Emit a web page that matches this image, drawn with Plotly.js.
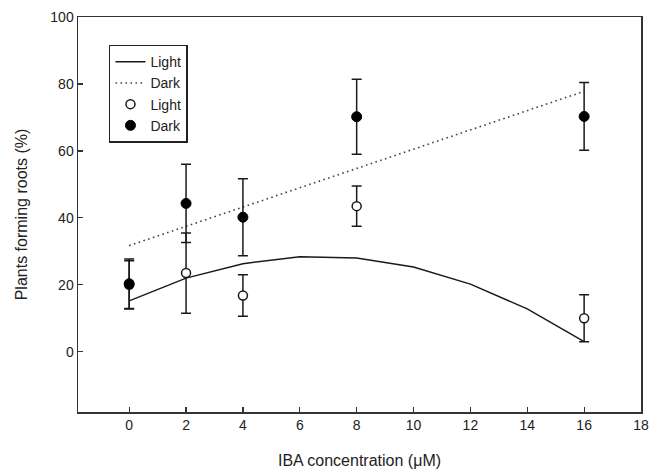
<!DOCTYPE html>
<html>
<head>
<meta charset="utf-8">
<script src="https://cdn.plot.ly/plotly-3.0.1.min.js"></script>
<style>html,body{margin:0;padding:0;background:#fff}#chart{width:651px;height:473px}</style>
</head>
<body>
<div id="chart"></div>
<script>
// Observed means (%), with standard-error bars
const concentrations = [0, 2, 4, 8, 16];
const lightMeans = [20, 23.5, 16.8, 43.5, 10];
const lightErrors = [7.2, 12, 6.2, 6, 7];
const darkMeans = [20.3, 44.3, 40.2, 70.2, 70.3];
const darkErrors = [7.4, 11.7, 11.5, 11.2, 10.1];

// Fitted curves
const lightFitX = [0, 2, 4, 6, 8, 10, 12, 14, 16];
const lightFitY = [15.2, 22, 26.3, 28.4, 28, 25.3, 20.2, 12.8, 3];
const darkFitX = [0, 16];
const darkFitY = [31.7, 77.8];

const xTicks = [0, 2, 4, 6, 8, 10, 12, 14, 16, 18];
const yTicks = [0, 20, 40, 60, 80, 100];

const ink = '#1a1a1a';
const fam = 'Liberation Sans, Arial, sans-serif';
const traces = [
  {x: lightFitX, y: lightFitY, mode: 'lines', name: 'Light',
   line: {color: ink, width: 1.5}},
  {x: darkFitX, y: darkFitY, mode: 'lines', name: 'Dark',
   line: {color: '#444', width: 1.6, dash: '1.6px,3.4px'}},
  {x: concentrations, y: lightMeans, mode: 'markers', name: 'Light',
   marker: {symbol: 'circle', size: 9, color: '#fff', line: {color: ink, width: 1.5}},
   error_y: {type: 'data', array: lightErrors, color: ink, thickness: 1.5, width: 5}},
  {x: concentrations, y: darkMeans, mode: 'markers', name: 'Dark',
   marker: {symbol: 'circle', size: 10, color: '#000', line: {color: '#000', width: 1}},
   error_y: {type: 'data', array: darkErrors, color: ink, thickness: 1.5, width: 5}}
];

const axisFont = {family: fam, size: 14, color: '#222'};
const layout = {
  width: 651, height: 473,
  margin: {l: 78, r: 10, t: 17, b: 61},
  paper_bgcolor: '#fff', plot_bgcolor: '#fff',
  font: axisFont,
  showlegend: true,
  legend: {
    x: 0.055, y: 0.93, xanchor: 'left', yanchor: 'top',
    bordercolor: '#222', borderwidth: 1.5, bgcolor: '#fff',
    font: {family: fam, size: 14, color: '#222'},
    tracegroupgap: 0
  },
  xaxis: {
    range: [-1.8, 18], tickvals: xTicks, ticktext: xTicks.map(String),
    ticks: 'inside', ticklen: 5, tickwidth: 1.2, tickcolor: '#333',
    showline: true, linecolor: '#333', linewidth: 1.5, mirror: true,
    showgrid: false, zeroline: false,
    tickfont: axisFont,
    title: {text: 'IBA concentration (μM)', font: {family: fam, size: 16, color: '#222'}, standoff: 22}
  },
  yaxis: {
    range: [-18, 100], tickvals: yTicks, ticktext: yTicks.map(String),
    ticks: 'inside', ticklen: 5, tickwidth: 1.2, tickcolor: '#333',
    showline: true, linecolor: '#333', linewidth: 1.5, mirror: true,
    showgrid: false, zeroline: false,
    tickfont: axisFont,
    title: {text: 'Plants forming roots (%)', font: {family: fam, size: 16, color: '#222'}, standoff: 18}
  }
};

Plotly.newPlot('chart', traces, layout, {displayModeBar: false, staticPlot: true});
</script>
</body>
</html>
